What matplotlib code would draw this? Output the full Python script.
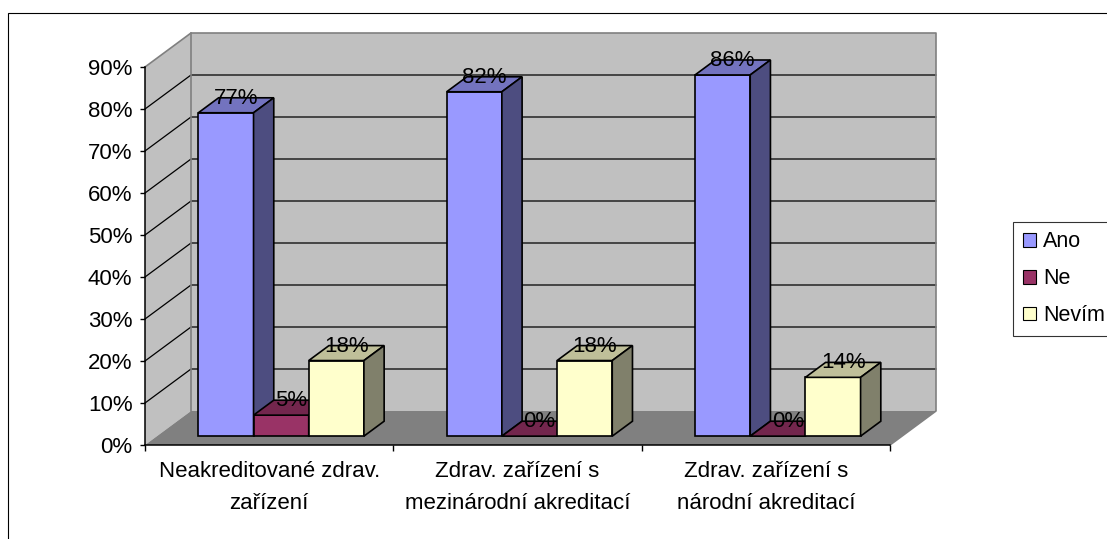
import matplotlib
matplotlib.use("Agg")
import matplotlib.pyplot as plt
from matplotlib.patches import Polygon, Rectangle, Patch
from matplotlib.ticker import FixedLocator, FuncFormatter, NullFormatter

plt.rcParams['font.family'] = ['Liberation Sans', 'DejaVu Sans']

# ---- data -------------------------------------------------------------
categories = ["Neakreditované zdrav.\nzařízení",
              "Zdrav. zařízení s\nmezinárodní akreditací",
              "Zdrav. zařízení s\nnárodní akreditací"]
series_names = ["Ano", "Ne", "Nevím"]
ano = [77, 82, 86]
ne = [5, 0, 0]
nevim = [18, 18, 14]
y_ticks = [0, 10, 20, 30, 40, 50, 60, 70, 80, 90]

series_values = [ano, ne, nevim]

# ---- styling ------------------------------------------------------------
front_colors = ["#9999FF", "#993366", "#FFFFCC"]
top_colors = ["#7373BF", "#73264D", "#BFBF99"]
side_colors = ["#4D4D80", "#4D1A33", "#80806B"]
wall_color = "#C0C0C0"
floor_color = "#808080"
edge_grey = "#808080"
FS = 16

W, H = 1107, 539
fig = plt.figure(figsize=(W / 100, H / 100), dpi=100)
fig.patch.set_facecolor("white")

# front plane of the 3-D box (in pixels: x 145..890, y 67..445)
ax = fig.add_axes([145 / W, (H - 445) / H, (890 - 145) / W, (445 - 67) / H])
ax.set_xlim(0, len(categories))
ax.set_ylim(0, 90)
ax.patch.set_visible(False)

# depth offset of the back plane, in data units
px_per_cat = (890 - 145) / len(categories)
px_per_pct = (445 - 67) / 90.0
DX = 46 / px_per_cat
DY = 34 / px_per_pct


def P(x, v, d):
    """Project a point (category x, value v, depth d in 0..1) to the axes."""
    return (x + d * DX, v + d * DY)


ncat = len(categories)
vmax = y_ticks[-1]

# walls and floor
back = [P(0, 0, 1), P(ncat, 0, 1), P(ncat, vmax, 1), P(0, vmax, 1)]
left = [P(0, 0, 0), P(0, 0, 1), P(0, vmax, 1), P(0, vmax, 0)]
floor = [P(0, 0, 0), P(ncat, 0, 0), P(ncat, 0, 1), P(0, 0, 1)]
for poly, col in [(back, wall_color), (left, wall_color), (floor, floor_color)]:
    ax.add_patch(Polygon(poly, closed=True, facecolor=col, edgecolor="none",
                         clip_on=False, zorder=0.5))

# gridlines on the walls
for v in y_ticks[1:-1]:
    pts = [P(0, v, 0), P(0, v, 1), P(ncat, v, 1)]
    ax.plot([p[0] for p in pts], [p[1] for p in pts], color="black",
            lw=0.9, clip_on=False, zorder=0.8)

# wall outlines
outline = [
    [P(0, vmax, 0), P(0, vmax, 1), P(ncat, vmax, 1), P(ncat, 0, 1), P(ncat, 0, 0)],
    [P(0, 0, 1), P(0, vmax, 1)],
]
for pts in outline:
    ax.plot([p[0] for p in pts], [p[1] for p in pts], color=edge_grey,
            lw=1.2, clip_on=False, zorder=0.9)

# bars
nser = len(series_names)
w = 1.0 / (nser + 1.5)
margin = 0.75 * w
d0, d1 = 0.26, 0.70
z = 3.0
for i in range(ncat):
    for j in range(nser):
        v = series_values[j][i]
        x0 = i + margin + j * w
        x1 = x0 + w
        ax.bar(x0 + d0 * DX, v, width=w, bottom=d0 * DY, align="edge",
               color=front_colors[j], edgecolor="black", lw=1.2, zorder=z)
        top = [P(x0, v, d0), P(x1, v, d0), P(x1, v, d1), P(x0, v, d1)]
        ax.add_patch(Polygon(top, closed=True, facecolor=top_colors[j],
                             edgecolor="black", lw=1.2, clip_on=False,
                             zorder=z, joinstyle="miter"))
        if v > 0:
            side = [P(x1, 0, d0), P(x1, 0, d1), P(x1, v, d1), P(x1, v, d0)]
            ax.add_patch(Polygon(side, closed=True, facecolor=side_colors[j],
                                 edgecolor="black", lw=1.2, clip_on=False,
                                 zorder=z, joinstyle="miter"))
        z += 0.01

# value labels on the bar tops
for i in range(ncat):
    for j in range(nser):
        v = series_values[j][i]
        x0 = i + margin + j * w
        cx, cy = P(x0 + w / 2, v, (d0 + d1) / 2)
        ax.annotate(f"{v}%", (cx, cy), xytext=(0, 5), textcoords="offset points",
                    ha="center", va="center", fontsize=FS, color="black",
                    zorder=10, annotation_clip=False)

# axes, ticks and labels
for s in ["top", "right"]:
    ax.spines[s].set_visible(False)
for s in ["left", "bottom"]:
    ax.spines[s].set_color("black")
    ax.spines[s].set_linewidth(1.1)

ax.yaxis.set_major_locator(FixedLocator(y_ticks))
ax.yaxis.set_major_formatter(FuncFormatter(lambda x, _: f"{x:.0f}%"))
ax.tick_params(axis="y", direction="out", length=3.5, width=1.0, pad=5.5,
               labelsize=FS, colors="black")

ax.xaxis.set_major_locator(FixedLocator(list(range(ncat + 1))))
ax.xaxis.set_major_formatter(NullFormatter())
ax.xaxis.set_minor_locator(FixedLocator([i + 0.5 for i in range(ncat)]))
ax.set_xticklabels(categories, minor=True, fontsize=FS, linespacing=1.68)
ax.tick_params(axis="x", which="major", direction="out", length=4, width=1.0)
ax.tick_params(axis="x", which="minor", length=0, pad=11.5, colors="black")

# legend
handles = [Patch(facecolor=c, edgecolor="black", lw=0.8) for c in front_colors]
leg = fig.legend(handles, series_names, loc="upper left",
                 bbox_to_anchor=(1013 / W, 1 - 221.7 / H), borderaxespad=0,
                 fontsize=15.5, frameon=True, fancybox=False, shadow=False,
                 handlelength=0.6, handleheight=0.6, handletextpad=0.35,
                 labelspacing=0.74, borderpad=0.45)
leg.get_frame().set_edgecolor("black")
leg.get_frame().set_linewidth(0.8)

# chart area border
fig.add_artist(Rectangle((7.5 / W, -0.05), 1.2, 1 - 12.5 / H + 0.05,
                         transform=fig.transFigure, fill=False,
                         edgecolor="black", lw=0.8))

fig.savefig("out.png", dpi=100)
